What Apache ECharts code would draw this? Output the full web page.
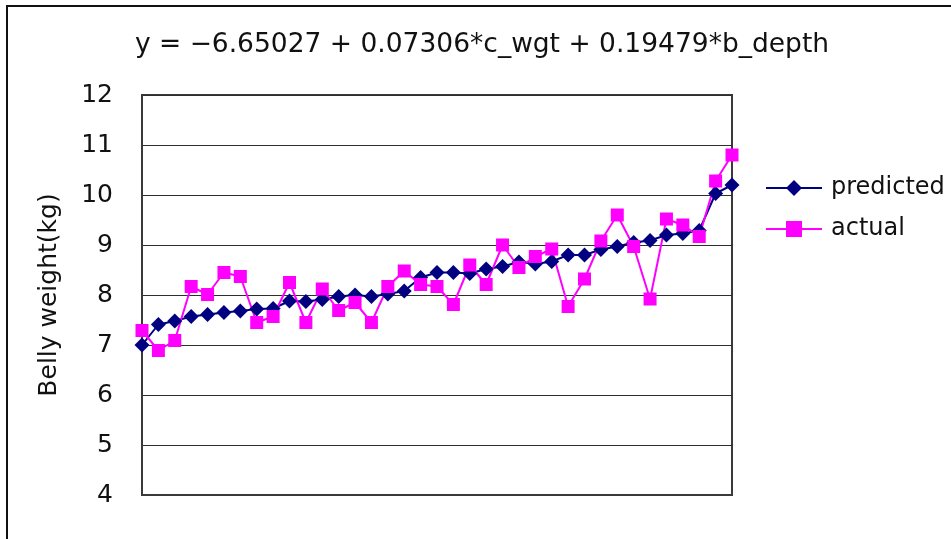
<!DOCTYPE html>
<html>
<head>
<meta charset="utf-8">
<script src="https://cdn.jsdelivr.net/npm/echarts@6/dist/echarts.min.js"></script>
<style>
  html, body { margin: 0; padding: 0; background: #fff; }
  #chart { width: 951px; height: 539px; }
</style>
</head>
<body>
<div id="chart"></div>
<script>
// Belly weight: regression prediction vs measured value, sorted by prediction
const equation = 'y = \u22126.65027 + 0.07306*c_wgt + 0.19479*b_depth';
const samples = Array.from({ length: 37 }, (_, i) => String(i + 1));
const predicted = [7.00, 7.41, 7.48, 7.57, 7.61, 7.65, 7.68, 7.72, 7.73, 7.88, 7.87, 7.91, 7.97,
  8.00, 7.97, 8.02, 8.08, 8.35, 8.45, 8.45, 8.43, 8.52, 8.57, 8.66, 8.62, 8.67, 8.80, 8.80,
  8.91, 8.97, 9.05, 9.09, 9.20, 9.23, 9.29, 10.03, 10.20];
const actual = [7.29, 6.89, 7.09, 8.17, 8.01, 8.45, 8.37, 7.45, 7.57, 8.25, 7.45, 8.12, 7.69,
  7.85, 7.45, 8.17, 8.48, 8.21, 8.17, 7.81, 8.60, 8.21, 9.00, 8.55, 8.77, 8.92, 7.77, 8.32,
  9.08, 9.60, 8.97, 7.92, 9.52, 9.40, 9.17, 10.28, 10.80];
const yMin = 4, yMax = 12, yStep = 1;

const FONT = 'DejaVu Sans';
const chart = echarts.init(document.getElementById('chart'), null, { renderer: 'canvas' });

chart.setOption({
  animation: false,
  backgroundColor: '#ffffff',
  textStyle: { fontFamily: FONT, color: '#111' },
  graphic: [
    {
      type: 'rect', z: -10, silent: true,
      shape: { x: 7, y: 6, width: 1000, height: 600 },
      style: { fill: 'none', stroke: '#111', lineWidth: 2 }
    },
    {
      type: 'text', silent: true,
      x: 482, y: 45,
      style: {
        text: equation, fontFamily: FONT, fontSize: 26.5, fill: '#111',
        align: 'center', verticalAlign: 'middle'
      }
    }
  ],
  grid: {
    left: 142, right: 219, top: 95, bottom: 44,
    show: true, borderColor: '#3a3a3a', borderWidth: 2, backgroundColor: 'transparent'
  },
  legend: {
    orient: 'vertical', left: 765, top: 174, padding: 0,
    itemWidth: 56, itemHeight: 20, itemGap: 13,
    textStyle: { fontFamily: FONT, fontSize: 24, color: '#111', lineHeight: 28, padding: [0, 0, 0, 4] },
    data: ['predicted', 'actual']
  },
  xAxis: {
    type: 'category', data: samples, boundaryGap: false,
    axisLine: { show: true, lineStyle: { color: '#3a3a3a', width: 2 } },
    axisTick: { show: false }, axisLabel: { show: false }, splitLine: { show: false }
  },
  yAxis: {
    type: 'value', min: yMin, max: yMax, interval: yStep,
    name: 'Belly weight(kg)', nameLocation: 'middle', nameRotate: 90, nameGap: 80,
    nameTextStyle: { fontFamily: FONT, fontSize: 25, color: '#111' },
    axisLine: { show: true, lineStyle: { color: '#3a3a3a', width: 2 } },
    axisTick: { show: false },
    axisLabel: { fontFamily: FONT, fontSize: 25, color: '#111', margin: 29 },
    splitLine: { show: true, lineStyle: { color: '#2e2e2e', width: 1 } }
  },
  series: [
    {
      name: 'predicted', type: 'line', data: predicted,
      showSymbol: true, showAllSymbol: true,
      symbol: 'diamond', symbolSize: 15,
      itemStyle: { color: '#000080' },
      lineStyle: { color: '#000080', width: 2 }
    },
    {
      name: 'actual', type: 'line', data: actual,
      showSymbol: true, showAllSymbol: true,
      symbol: 'rect', symbolSize: 13,
      itemStyle: { color: '#ff00ff' },
      lineStyle: { color: '#ff00ff', width: 2 }
    }
  ]
});
</script>
</body>
</html>
